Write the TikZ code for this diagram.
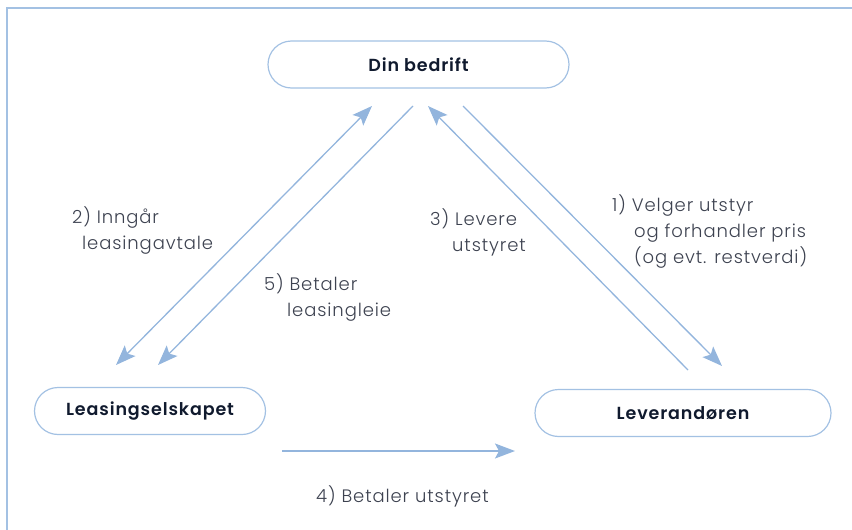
\documentclass[tikz,border=0pt]{standalone}
\usepackage{fontspec}
\setmainfont{Poppins}[UprightFont=* Light, BoldFont=* SemiBold, LetterSpace=5]
\usepackage{tikz}
\usetikzlibrary{arrows.meta}
\definecolor{frameblue}{HTML}{A3C1E3}
\definecolor{arrowblue}{HTML}{93B5DD}
\definecolor{navy}{HTML}{101A2E}
\definecolor{labelgrey}{HTML}{3D4250}

\tikzset{
  party/.style={draw=frameblue, line width=1.2pt, rounded corners=23.5pt, minimum height=47pt,
    font=\fontsize{17.5}{20}\selectfont\bfseries, text=navy},
  flow/.style={draw=arrowblue, line width=1.3pt, -{Stealth[length=20pt,width=15pt,inset=4pt]}},
  steplabel/.style={anchor=north west, inner sep=0pt, align=left, text=labelgrey,
    font=\fontsize{18}{26}\selectfont}
}

\begin{document}
\begin{tikzpicture}[x=1pt,y=-1pt]
\useasboundingbox (0,0) rectangle (852,530);
\draw[frameblue, line width=1.5pt] (7,530) -- (7,8) -- (852,8);

% the three parties
\node[party, minimum width=301pt] (firm) at (418.5,64.5) {Din bedrift};
\node[party, minimum width=231pt] (lessor) at (150,411) {Leasingselskapet};
\node[party, minimum width=296pt] (vendor) at (683,413) {Leverandøren};

% arrow ends
\coordinate (contractA) at (116,365);
\coordinate (contractB) at (372,106);
\coordinate (rentA) at (413,106);
\coordinate (rentB) at (158,365);
\coordinate (orderA) at (463,106);
\coordinate (orderB) at (722,366);
\coordinate (deliverA) at (688,370);
\coordinate (deliverB) at (428,106);
\coordinate (payA) at (282,451);
\coordinate (payB) at (515,451);

\draw[flow, {Stealth[length=20pt,width=15pt,inset=4pt]}-{Stealth[length=20pt,width=15pt,inset=4pt]}] (contractA) -- (contractB);
\draw[flow] (rentA) -- (rentB);
\draw[flow] (orderA) -- (orderB);
\draw[flow] (deliverA) -- (deliverB);
\draw[flow] (payA) -- (payB);

% step texts
\node[steplabel] (step2) at (72,206) {2) Inngår\\\hspace*{10pt}leasingavtale};
\node[steplabel] (step5) at (264,273) {5) Betaler\\\hspace*{23pt}leasingleie};
\node[steplabel] (step3) at (430,208) {3) Levere\\\hspace*{22pt}utstyret};
\node[steplabel] (step1) at (612,194) {1) Velger utstyr\\\hspace*{22pt}og forhandler pris\\\hspace*{22pt}(og evt. restverdi)};
\node[steplabel] (step4) at (316,485) {4) Betaler utstyret};
\end{tikzpicture}
\end{document}
